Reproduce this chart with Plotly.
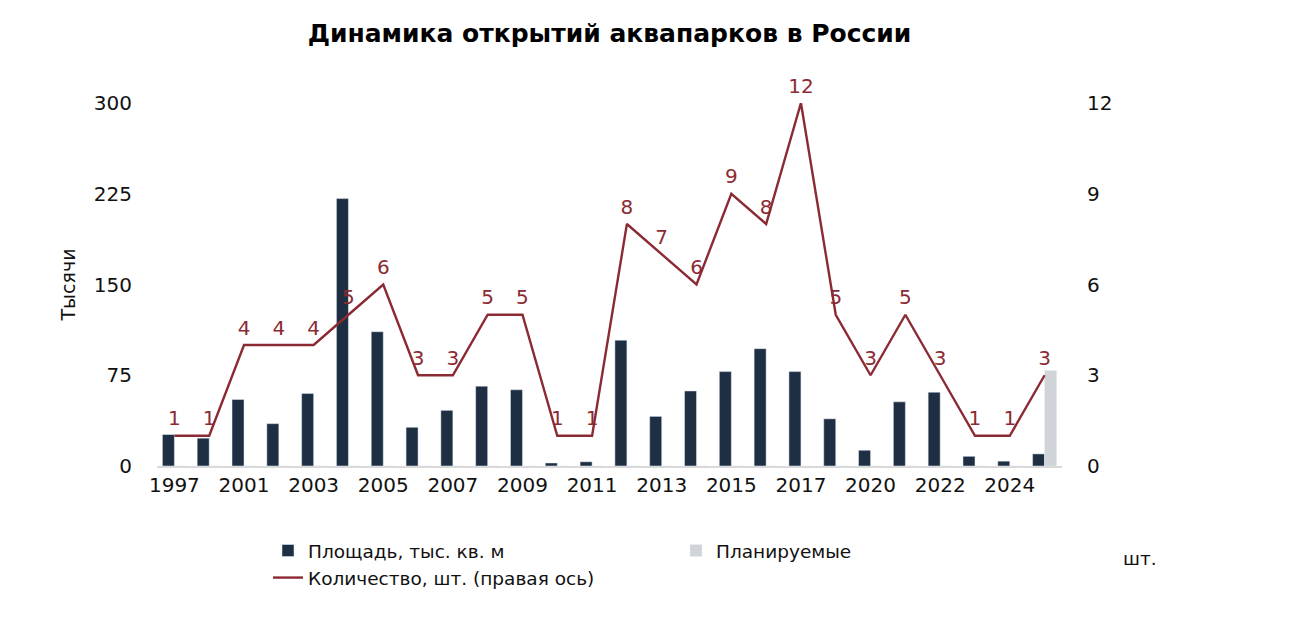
"""Динамика открытий аквапарков в России — бары + линия на правой оси."""

import plotly.graph_objects as go

years = ["1997", "2000", "2001", "2002", "2003", "2004", "2005", "2006", "2007",
         "2008", "2009", "2010", "2011", "2012", "2013", "2014", "2015", "2016",
         "2017", "2018", "2020", "2021", "2022", "2023", "2024", "2025"]
area = [26, 23, 55, 35, 60, 221, 111, 32, 46, 66, 63, 2.5, 3.5, 104, 41, 62,
        78, 97, 78, 39, 13, 53, 61, 8, 4, 10]
planned = [0] * 25 + [79]
count = [1, 1, 4, 4, 4, 5, 6, 3, 3, 5, 5, 1, 1, 8, 7, 6, 9, 8, 12, 5, 3, 5, 3, 1, 1, 3]
tick_years = ["1997", "2001", "2003", "2005", "2007", "2009", "2011", "2013",
              "2015", "2017", "2020", "2022", "2024"]

DARK = "#1E2F44"
GREY = "#D0D4D8"
RED = "#8B2A33"
FONT = "DejaVu Sans"

fig = go.Figure()
fig.add_trace(go.Bar(x=years, y=area, name="Площадь, тыс. кв. м",
                     marker_color=DARK, offsetgroup="a"))
fig.add_trace(go.Bar(x=years, y=planned, name="Планируемые",
                     marker_color=GREY, offsetgroup="b"))
fig.add_trace(go.Scatter(x=years, y=count, name="Количество, шт. (правая ось)",
                         mode="lines+markers+text", yaxis="y2", cliponaxis=False,
                         line=dict(color=RED, width=2.4),
                         marker=dict(size=7, color="rgba(0,0,0,0)"),
                         text=[str(v) for v in count], textposition="top center",
                         textfont=dict(color=RED, size=20, family=FONT)))

# the page is shown with the browser's 8px body margin, so margins are 8px smaller
fig.update_layout(
    width=1294, height=636,
    margin=dict(l=149, r=240, t=95, b=178, autoexpand=False),
    paper_bgcolor="white", plot_bgcolor="white",
    font=dict(family=FONT, size=20, color="#111111"),
    title=dict(text="<b>Динамика открытий аквапарков в России</b>",
               x=0.5, xref="paper", y=0.961, yanchor="middle", automargin=False,
               font=dict(size=25, color="#000000", family=FONT)),
    barmode="group", bargap=0.31, bargroupgap=0,
    showlegend=True,
    legend=dict(orientation="h", x=(268 - 157) / 905, xanchor="left",
                y=(466 - 532) / 363, yanchor="top",
                entrywidth=363, entrywidthmode="pixels",
                font=dict(size=18.5, family=FONT, color="#111111"),
                traceorder="normal", itemclick=False),
    xaxis=dict(type="category", range=[-0.5, len(years) - 0.5],
               tickvals=tick_years, ticktext=tick_years,
               showgrid=False, showline=True, linecolor="#D9D9D9", linewidth=2,
               ticks="", tickfont=dict(size=20), automargin=False),
    yaxis=dict(range=[0, 300], tickvals=[0, 75, 150, 225, 300], showgrid=False,
               zeroline=False, ticks="", ticklabelstandoff=24, automargin=False,
               title=dict(text="Тысячи", font=dict(size=19), standoff=13),
               tickfont=dict(size=20)),
    yaxis2=dict(range=[0, 12], tickvals=[0, 3, 6, 9, 12], overlaying="y", side="right",
                showgrid=False, zeroline=False, ticks="", ticklabelstandoff=24,
                automargin=False, tickfont=dict(size=20)),
    annotations=[dict(text="шт.", xref="paper", yref="paper", x=(1140 - 157) / 905,
                      y=(466 - 558) / 363, xanchor="center", yanchor="middle",
                      showarrow=False,
                      font=dict(size=18.5, family=FONT, color="#111111"))],
)

fig.write_html("out.html")
